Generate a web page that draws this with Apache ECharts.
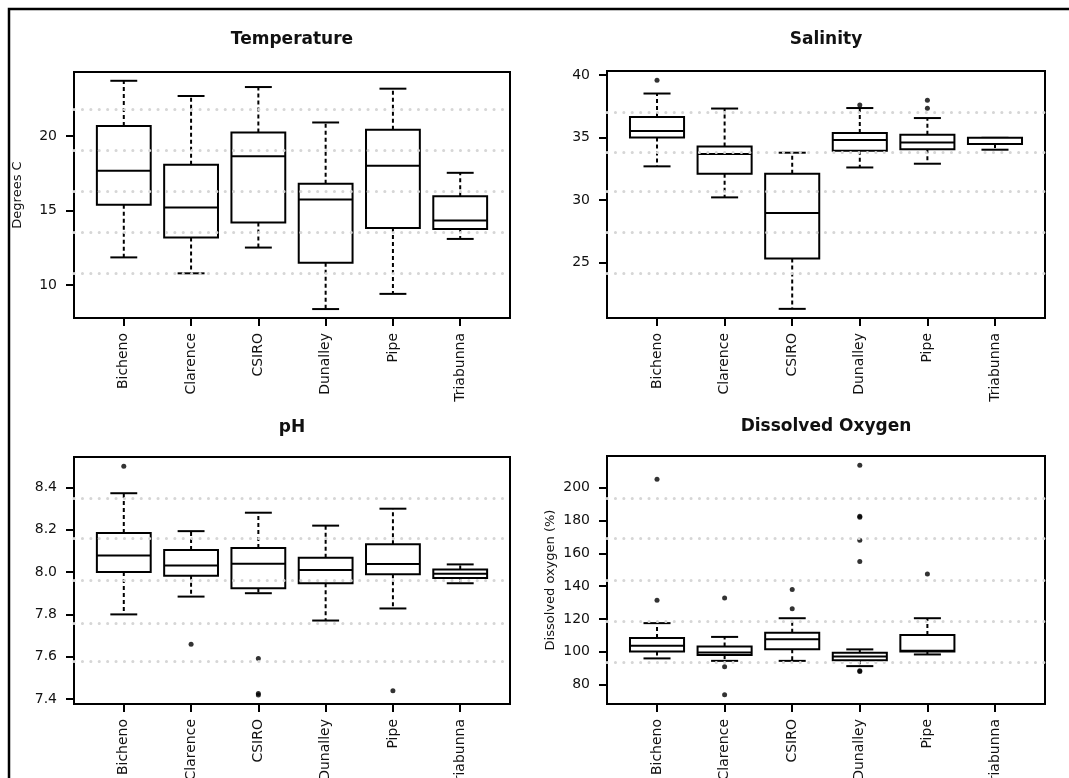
<!DOCTYPE html>
<html>
<head>
<meta charset="utf-8">
<title>Water quality by site</title>
<script src="https://cdn.jsdelivr.net/npm/echarts@6/dist/echarts.min.js"></script>
<style>
  html, body { margin: 0; padding: 0; background: #ffffff; }
  #chart { width: 1069px; height: 778px; }
</style>
</head>
<body>
<div id="chart"></div>
<script>
// Sampling sites (x categories, positions 1..6)
const sites = ['Bicheno', 'Clarence', 'CSIRO', 'Dunalley', 'Pipe', 'Triabunna'];

// Box summaries per site: [lower whisker, Q1, median, Q3, upper whisker]
const temperatureStats = [
  [11.85, 15.38, 17.67, 20.67, 23.71],
  [10.78, 13.18, 15.20, 18.07, 22.69],
  [12.51, 14.20, 18.64, 20.24, 23.29],
  [8.38, 11.49, 15.73, 16.80, 20.91],
  [9.40, 13.82, 18.00, 20.42, 23.18],
  [13.09, 13.76, 14.33, 15.96, 17.53]
];
const temperatureOutliers = [];

const salinityStats = [
  [32.69, 35.00, 35.51, 36.63, 38.51],
  [30.21, 32.10, 33.68, 34.28, 37.31],
  [21.30, 25.32, 28.97, 32.10, 33.78],
  [32.60, 33.94, 34.80, 35.35, 37.35],
  [32.90, 34.05, 34.60, 35.22, 36.55],
  [34.02, 34.47, 34.47, 34.97, 34.97]
];
// [site number, value]
const salinityOutliers = [[1, 39.58], [4, 37.60], [5, 37.98], [5, 37.33]];

const phStats = [
  [7.800, 8.000, 8.078, 8.184, 8.372],
  [7.884, 7.983, 8.031, 8.104, 8.193],
  [7.900, 7.923, 8.039, 8.114, 8.280],
  [7.771, 7.947, 8.009, 8.067, 8.219],
  [7.828, 7.989, 8.038, 8.131, 8.299],
  [7.947, 7.972, 7.992, 8.012, 8.036]
];
const phOutliers = [[1, 8.499], [2, 7.659], [3, 7.592], [3, 7.427], [3, 7.420], [5, 7.440]];

// Triabunna has no dissolved oxygen readings
const oxygenStats = [
  [96.0, 100.2, 103.7, 108.5, 117.5],
  [94.5, 98.0, 99.6, 103.3, 109.1],
  [94.5, 101.6, 107.7, 111.6, 120.5],
  [91.3, 94.9, 97.2, 99.4, 101.5],
  [98.4, 100.2, 100.6, 110.2, 120.5],
  null
];
const oxygenOutliers = [
  [1, 205.3], [1, 131.5],
  [2, 132.9], [2, 90.9], [2, 73.8],
  [3, 138.0], [3, 126.2],
  [4, 213.8], [4, 182.6], [4, 182.0], [4, 168.1], [4, 155.1], [4, 88.4], [4, 88.0],
  [5, 147.4]
];

// Tick labels and value ranges of the y axes
const temperatureTicks = [10, 15, 20];
const salinityTicks = [25, 30, 35, 40];
const phTicks = [7.4, 7.6, 7.8, 8.0, 8.2, 8.4];
const oxygenTicks = [80, 100, 120, 140, 160, 180, 200];
const temperatureRange = [7.78, 24.30];
const salinityRange = [20.57, 40.31];
const phRange = [7.377, 8.543];
const oxygenRange = [68.2, 219.4];

// Dotted horizontal reference lines in each panel
const temperatureRefLines = [21.8, 19.07, 16.27, 13.53, 10.8];
const salinityRefLines = [37.05, 33.78, 30.72, 27.45, 24.18];
const phRefLines = [8.345, 8.158, 7.959, 7.762, 7.575];
const oxygenRefLines = [193.9, 169.5, 143.8, 118.4, 93.9];

const FONT = 'DejaVu Sans';
const INK = '#111111';

const panels = [
  { title: 'Temperature', stats: temperatureStats, outliers: temperatureOutliers, ticks: temperatureTicks,
    range: temperatureRange, refs: temperatureRefLines, yName: 'Degrees C', decimals: 0,
    grid: { left: 74, top: 72, width: 436, height: 246 }, titleY: 31 },
  { title: 'Salinity', stats: salinityStats, outliers: salinityOutliers, ticks: salinityTicks,
    range: salinityRange, refs: salinityRefLines, yName: '', decimals: 0,
    grid: { left: 607, top: 71, width: 438, height: 247 }, titleY: 31 },
  { title: 'pH', stats: phStats, outliers: phOutliers, ticks: phTicks,
    range: phRange, refs: phRefLines, yName: '', decimals: 1,
    grid: { left: 74, top: 457, width: 436, height: 247 }, titleY: 419 },
  { title: 'Dissolved Oxygen', stats: oxygenStats, outliers: oxygenOutliers, ticks: oxygenTicks,
    range: oxygenRange, refs: oxygenRefLines, yName: 'Dissolved oxygen (%)', decimals: 0,
    grid: { left: 607, top: 456, width: 438, height: 248 }, titleY: 418 }
];

const sitePositions = sites.map((s, i) => i + 1);

// Box, dashed whiskers, short caps and median, all placed through the axes
function renderBox(params, api) {
  const x = api.value(0);
  const lo = api.coord([x, api.value(1)]);
  const q1 = api.coord([x, api.value(2)]);
  const md = api.coord([x, api.value(3)]);
  const q3 = api.coord([x, api.value(4)]);
  const hi = api.coord([x, api.value(5)]);
  const boxW = api.size([0.8, 0])[0];
  const capW = boxW / 2;
  const cx = md[0];
  const solid = { stroke: '#000', lineWidth: 2, fill: null };
  const dashed = { stroke: '#000', lineWidth: 2, lineDash: [4, 3], fill: null };
  return {
    type: 'group',
    children: [
      { type: 'line', shape: { x1: cx, y1: q3[1], x2: cx, y2: hi[1] }, style: dashed },
      { type: 'line', shape: { x1: cx, y1: q1[1], x2: cx, y2: lo[1] }, style: dashed },
      { type: 'line', shape: { x1: cx - capW / 2, y1: hi[1], x2: cx + capW / 2, y2: hi[1] }, style: solid },
      { type: 'line', shape: { x1: cx - capW / 2, y1: lo[1], x2: cx + capW / 2, y2: lo[1] }, style: solid },
      { type: 'rect', shape: { x: cx - boxW / 2, y: q3[1], width: boxW, height: q1[1] - q3[1] },
        style: { fill: '#ffffff', stroke: '#000', lineWidth: 2 } },
      { type: 'line', shape: { x1: cx - boxW / 2, y1: md[1], x2: cx + boxW / 2, y2: md[1] }, style: solid }
    ]
  };
}

const option = {
  animation: false,
  backgroundColor: '#ffffff',
  title: panels.map(p => ({
    text: p.title,
    left: p.grid.left + p.grid.width / 2,
    top: p.titleY,
    textAlign: 'center',
    padding: 0,
    textStyle: { fontFamily: FONT, fontSize: 17, fontWeight: 'bold', color: INK }
  })),
  grid: panels.map(p => Object.assign({ show: true, borderColor: '#000', borderWidth: 2,
    backgroundColor: 'transparent', containLabel: false, outerBoundsMode: 'none' }, p.grid)),
  xAxis: panels.map((p, i) => ({
    type: 'value',
    gridIndex: i,
    min: 0.26,
    max: 6.74,
    axisLine: { show: false },
    splitLine: { show: false },
    axisTick: { show: true, length: 8, customValues: sitePositions, lineStyle: { color: '#000', width: 2 } },
    axisLabel: {
      show: true, customValues: sitePositions, rotate: 90, margin: 15,
      fontFamily: FONT, fontSize: 14, color: INK,
      formatter: v => sites[Math.round(v) - 1]
    }
  })),
  yAxis: panels.map((p, i) => ({
    type: 'value',
    gridIndex: i,
    min: p.range[0],
    max: p.range[1],
    name: p.yName,
    nameLocation: 'middle',
    nameGap: 50,
    nameTextStyle: { fontFamily: FONT, fontSize: 13, color: INK },
    axisLine: { show: false },
    splitLine: { show: false },
    axisTick: { show: true, length: 8, customValues: p.ticks, lineStyle: { color: '#000', width: 2 } },
    axisLabel: {
      show: true, customValues: p.ticks, margin: 17,
      fontFamily: FONT, fontSize: 14, color: INK,
      formatter: v => v.toFixed(p.decimals)
    }
  })),
  series: [],
  graphic: [{
    type: 'polyline',
    shape: { points: [[9, 778], [9, 9], [1069, 9]] },
    style: { stroke: '#000', lineWidth: 2.5, fill: null },
    silent: true
  }]
};

panels.forEach((p, i) => {
  const boxes = [];
  p.stats.forEach((s, k) => { if (s) boxes.push([k + 1].concat(s)); });
  option.series.push({
    type: 'custom',
    xAxisIndex: i,
    yAxisIndex: i,
    renderItem: renderBox,
    encode: { x: 0, y: [1, 2, 3, 4, 5] },
    data: boxes,
    z: 2
  });
  option.series.push({
    type: 'scatter',
    xAxisIndex: i,
    yAxisIndex: i,
    symbol: 'circle',
    symbolSize: 5,
    itemStyle: { color: '#000' },
    data: p.outliers,
    z: 3
  });
  // dotted reference lines drawn over the boxes
  option.series.push({
    type: 'scatter',
    xAxisIndex: i,
    yAxisIndex: i,
    data: [],
    z: 10,
    markLine: {
      silent: true,
      symbol: ['none', 'none'],
      label: { show: false },
      animation: false,
      lineStyle: { color: '#d6d6d6', width: 3, type: [0.1, 8.3], cap: 'round' },
      data: p.refs.map(v => ({ yAxis: v }))
    }
  });
});

const chart = echarts.init(document.getElementById('chart'), null, { renderer: 'canvas' });
chart.setOption(option);
</script>
</body>
</html>
